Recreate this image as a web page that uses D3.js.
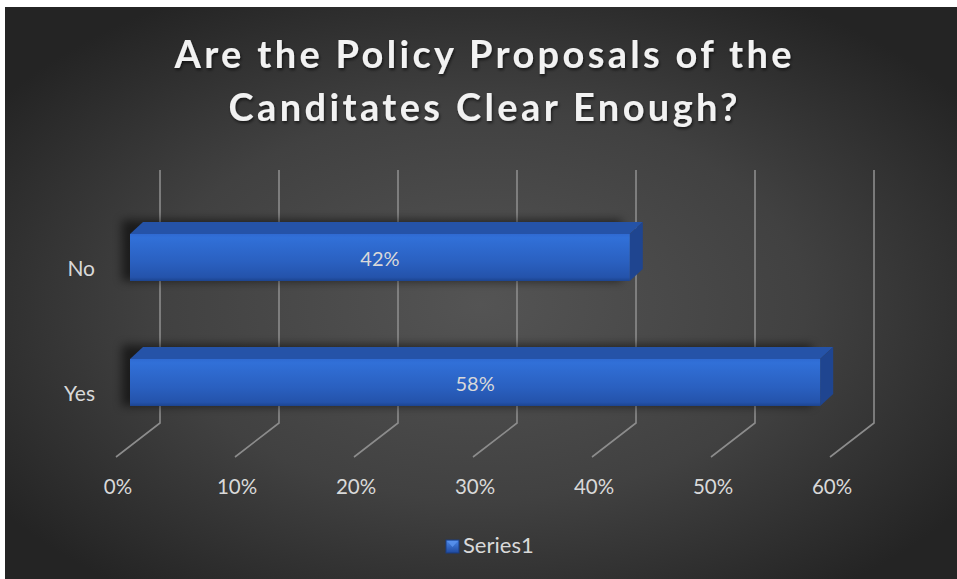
<!DOCTYPE html>
<html>
<head>
<meta charset="utf-8">
<script src="https://cdn.jsdelivr.net/npm/d3@7/dist/d3.min.js"></script>
<style>
  html, body { margin: 0; padding: 0; background: #ffffff; }
  svg { display: block; }
</style>
</head>
<body>
<svg id="chart" width="957" height="579"></svg>
<script>
// Survey answers
const categories = ["No", "Yes"];
const values = [0.42, 0.58];
const tickValues = [0, 0.1, 0.2, 0.3, 0.4, 0.5, 0.6];
const seriesName = "Series1";
const titleLines = ["Are the Policy Proposals of the", "Canditates Clear Enough?"];

const W = 957, H = 579;
const svg = d3.select("#chart");
const defs = svg.append("defs");

// Panel background: soft radial light in the middle
const bg = defs.append("radialGradient").attr("id", "bgGrad")
  .attr("cx", "50%").attr("cy", "52%").attr("r", "62%");
bg.append("stop").attr("offset", "0%").attr("stop-color", "#545454");
bg.append("stop").attr("offset", "55%").attr("stop-color", "#414141");
bg.append("stop").attr("offset", "100%").attr("stop-color", "#242424");

const front = defs.append("linearGradient").attr("id", "frontGrad")
  .attr("x1", 0).attr("y1", 0).attr("x2", 0).attr("y2", 1);
front.append("stop").attr("offset", "0%").attr("stop-color", "#2f6ad2");
front.append("stop").attr("offset", "8%").attr("stop-color", "#3170d8");
front.append("stop").attr("offset", "60%").attr("stop-color", "#2a60c0");
front.append("stop").attr("offset", "92%").attr("stop-color", "#2453ab");
front.append("stop").attr("offset", "100%").attr("stop-color", "#1c448f");

const legendGrad = defs.append("linearGradient").attr("id", "legGrad")
  .attr("x1", 0).attr("y1", 0).attr("x2", 0).attr("y2", 1);
legendGrad.append("stop").attr("offset", "0%").attr("stop-color", "#4a86e8");
legendGrad.append("stop").attr("offset", "100%").attr("stop-color", "#1f4aa0");

const blur = defs.append("filter").attr("id", "barShadow")
  .attr("x", "-20%").attr("y", "-50%").attr("width", "140%").attr("height", "200%");
blur.append("feGaussianBlur").attr("stdDeviation", 5);

const tshadow = defs.append("filter").attr("id", "titleShadow")
  .attr("x", "-5%").attr("y", "-20%").attr("width", "110%").attr("height", "150%");
tshadow.append("feDropShadow").attr("dx", 1).attr("dy", 2).attr("stdDeviation", 1.5)
  .attr("flood-color", "#000").attr("flood-opacity", 0.6);

svg.append("rect").attr("x", 5).attr("y", 7).attr("width", W - 5).attr("height", H - 7)
  .attr("fill", "url(#bgGrad)");

const FONT = "Lato, 'Open Sans', sans-serif";

// Title
const title = svg.append("g").attr("filter", "url(#titleShadow)");
const titleBase = [68, 121];
const titleLen = [617, 509];
titleLines.forEach((t, i) => {
  title.append("text")
    .attr("x", 483).attr("y", titleBase[i])
    .attr("text-anchor", "middle")
    .attr("font-family", FONT)
    .attr("font-weight", 700)
    .attr("font-size", 38)
    .attr("fill", "#f2f2f2")
    .attr("textLength", titleLen[i])
    .attr("lengthAdjust", "spacing")
    .text(t);
});

// 3D geometry: floor front edge and back wall
const x = d3.scaleLinear().domain([0, 0.6]).range([116, 830]);
const depth = { dx: 44, dy: -34 };
const floorY = 457;
const wallTop = 170;

const y = d3.scalePoint().domain(categories).range([195, 445]).padding(0.5);
const barH = 47;
const barOff = { dx: 14, dy: -11 };   // where the bar's front face sits inside the depth
const barDepth = { dx: 13, dy: -12 };

// Gridlines: back wall verticals with floor diagonals
const grid = svg.append("g").attr("stroke", "#8c8c8c").attr("stroke-width", 1.6).attr("fill", "none");
grid.selectAll("path").data(tickValues).join("path")
  .attr("d", d => {
    const fx = x(d), bx = fx + depth.dx, by = floorY + depth.dy;
    return `M${bx},${wallTop}L${bx},${by}L${fx},${floorY}`;
  });

// Tick labels
svg.append("g").selectAll("text").data(tickValues).join("text")
  .attr("x", d => x(d) + 2).attr("y", 494)
  .attr("text-anchor", "middle")
  .attr("font-family", FONT)
  .attr("font-size", 20.5)
  .attr("fill", "#d9d9d9")
  .text(d3.format(".0%"));

// Category labels
svg.append("g").selectAll("text").data(categories).join("text")
  .attr("x", 95).attr("y", d => y(d) + 18)
  .attr("text-anchor", "end")
  .attr("font-family", FONT)
  .attr("font-size", 21)
  .attr("fill", "#d9d9d9")
  .text(d => d);

// Bars
const data = categories.map((c, i) => ({ c, v: values[i] }));
const bars = svg.append("g").selectAll("g").data(data).join("g");

const fx0 = d => x(0) + barOff.dx;
const fx1 = d => x(d.v) + barOff.dx;
const fy0 = d => y(d.c) - barH / 2;
const fy1 = d => y(d.c) + barH / 2;

// soft shadow behind each bar
bars.append("rect")
  .attr("x", d => fx0(d) - 8).attr("y", d => fy0(d) + barDepth.dy - 2)
  .attr("width", d => fx1(d) - fx0(d)).attr("height", barH + 14)
  .attr("fill", "#000").attr("opacity", 0.55)
  .attr("filter", "url(#barShadow)");

// top face
bars.append("path")
  .attr("d", d => `M${fx0(d)},${fy0(d)}L${fx0(d) + barDepth.dx},${fy0(d) + barDepth.dy}` +
    `L${fx1(d) + barDepth.dx},${fy0(d) + barDepth.dy}L${fx1(d)},${fy0(d)}Z`)
  .attr("fill", "#2553a8");

// right side face
bars.append("path")
  .attr("d", d => `M${fx1(d)},${fy0(d)}L${fx1(d) + barDepth.dx},${fy0(d) + barDepth.dy}` +
    `L${fx1(d) + barDepth.dx},${fy1(d) + barDepth.dy}L${fx1(d)},${fy1(d)}Z`)
  .attr("fill", "#1f4590");

// front face
bars.append("rect")
  .attr("x", fx0).attr("y", fy0)
  .attr("width", d => fx1(d) - fx0(d)).attr("height", barH)
  .attr("fill", "url(#frontGrad)");

// value labels
bars.append("text")
  .attr("x", d => (fx0(d) + fx1(d)) / 2).attr("y", d => y(d.c) + 8)
  .attr("text-anchor", "middle")
  .attr("font-family", FONT)
  .attr("font-size", 20)
  .attr("fill", "#d9d9d9")
  .text(d => d3.format(".0%")(d.v));

// Legend
const legend = svg.append("g");
legend.append("rect").attr("x", 446).attr("y", 540).attr("width", 13).attr("height", 13)
  .attr("fill", "url(#legGrad)").attr("stroke", "#1a3c80").attr("stroke-width", 1);
legend.append("path").attr("d", "M447,541L458,541L452.5,547Z").attr("fill", "#5a93ee").attr("opacity", 0.8);
legend.append("text").attr("x", 463).attr("y", 553)
  .attr("font-family", FONT)
  .attr("font-size", 22)
  .attr("fill", "#d9d9d9")
  .text(seriesName);
</script>
</body>
</html>
